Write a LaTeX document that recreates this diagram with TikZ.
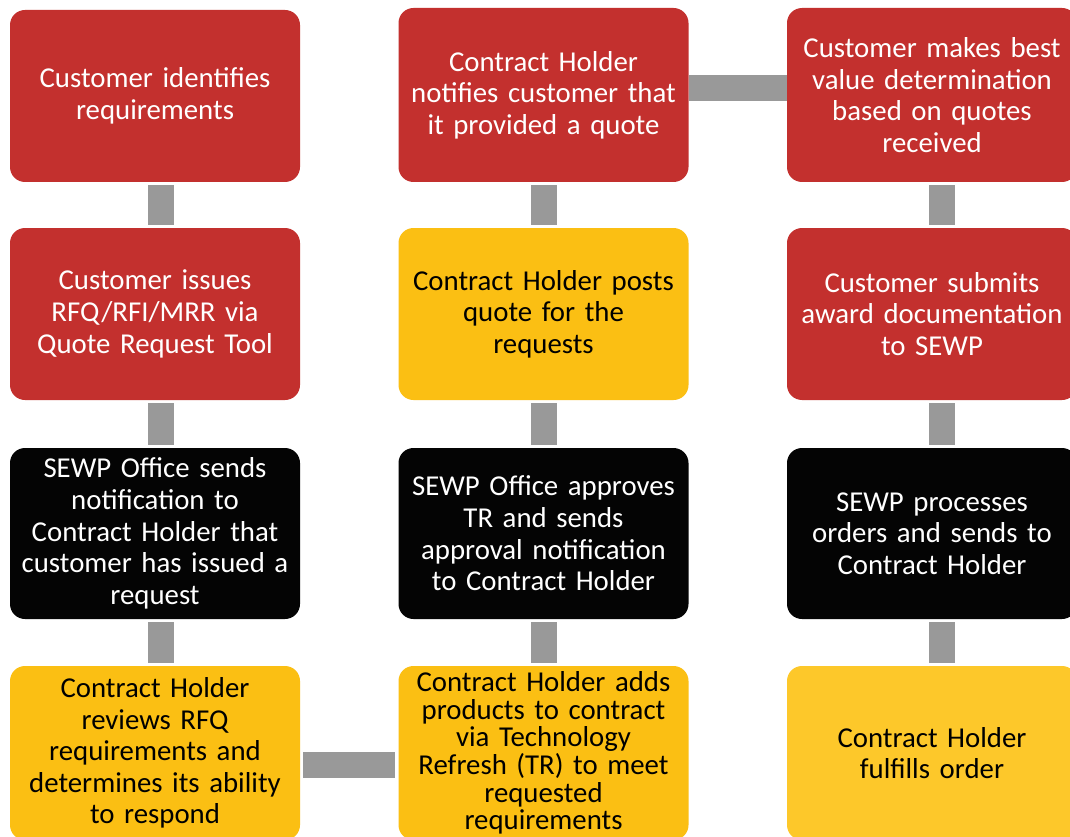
\documentclass[tikz,border=0pt]{standalone}
\usepackage{fontspec}
\setmainfont{Carlito}
\definecolor{boxred}{HTML}{C3302E}
\definecolor{boxyel}{HTML}{FBBF13}
\definecolor{boxyel2}{HTML}{FDC82A}
\definecolor{boxblk}{HTML}{040404}
\definecolor{bargrey}{HTML}{999999}
\begin{document}
\begin{tikzpicture}[x=1pt,y=-1pt,
  box/.style={rounded corners=15pt, minimum width=290pt, minimum height=172pt, inner sep=0pt,
    text width=286pt, align=center, font=\fontsize{28.8}{31.6}\selectfont},
  redbox/.style={box, fill=boxred, text=white},
  yelbox/.style={box, fill=boxyel, text=black},
  yelboxb/.style={box, fill=boxyel2, text=black},
  blkbox/.style={box, fill=boxblk, text=white},
  bar/.style={draw=bargrey, line width=26pt}]
\clip (0,0) rectangle (1070,837);
\fill[white] (0,0) rectangle (1070,837);
% column 1
\node[redbox] (a1) at (155,96) {Customer identifies\\requirements};
\node[redbox] (a2) at (155,314) {Customer issues\\RFQ/RFI/MRR via\\Quote Request Tool};
\node[blkbox, minimum height=171pt] (a3) at (155,533.5) {SEWP Office sends\\notification to\\Contract Holder that\\customer has issued a\\request};
\node[yelbox, minimum height=174pt] (a4) at (155,753) {Contract Holder\\reviews RFQ\\requirements and\\determines its ability\\to respond};
% column 2
\node[redbox, minimum height=174pt] (b1) at (543.5,95) {Contract Holder\\notifies customer that\\it provided a quote};
\node[yelbox] (b2) at (543.5,314) {Contract Holder posts\\quote for the\\requests};
\node[blkbox, minimum height=171pt] (b3) at (543.5,533.5) {SEWP Office approves\\TR and sends\\approval notification\\to Contract Holder};
\node[yelbox, minimum height=174pt, font=\fontsize{28.8}{27.6}\selectfont] (b4) at (543.5,753) {Contract Holder adds\\products to contract\\via Technology\\Refresh (TR) to meet\\requested\\requirements};
% column 3
\node[redbox, minimum height=174pt] (c1) at (932,95) {Customer makes best\\value determination\\based on quotes\\received};
\node[redbox] (c2) at (932,314) {Customer submits\\award documentation\\to SEWP};
\node[blkbox, minimum height=171pt] (c3) at (932,533.5) {SEWP processes\\orders and sends to\\Contract Holder};
\node[yelboxb, minimum height=174pt] (c4) at (932,753) {Contract Holder\\fulfills order};
% connectors
\draw[bar] ([xshift=6pt,yshift=-3pt]a1.south) -- ([xshift=6pt,yshift=3pt]a2.north);
\draw[bar] ([xshift=6pt,yshift=-3pt]a2.south) -- ([xshift=6pt,yshift=3pt]a3.north);
\draw[bar] ([xshift=6pt,yshift=-3pt]a3.south) -- ([xshift=6pt,yshift=3pt]a4.north);
\draw[bar] ([yshift=-3pt]b1.south) -- ([yshift=3pt]b2.north);
\draw[bar] ([yshift=-3pt]b2.south) -- ([yshift=3pt]b3.north);
\draw[bar] ([yshift=-3pt]b3.south) -- ([yshift=3pt]b4.north);
\draw[bar] ([xshift=10pt,yshift=-3pt]c1.south) -- ([xshift=10pt,yshift=3pt]c2.north);
\draw[bar] ([xshift=10pt,yshift=-3pt]c2.south) -- ([xshift=10pt,yshift=3pt]c3.north);
\draw[bar] ([xshift=10pt,yshift=-3pt]c3.south) -- ([xshift=10pt,yshift=3pt]c4.north);
\draw[bar] ([xshift=3pt,yshift=-12pt]a4.east) -- ([xshift=-3pt,yshift=-12pt]b4.west);
\draw[bar] ([yshift=7pt]b1.east) -- ([yshift=7pt]c1.west);
\end{tikzpicture}
\end{document}
